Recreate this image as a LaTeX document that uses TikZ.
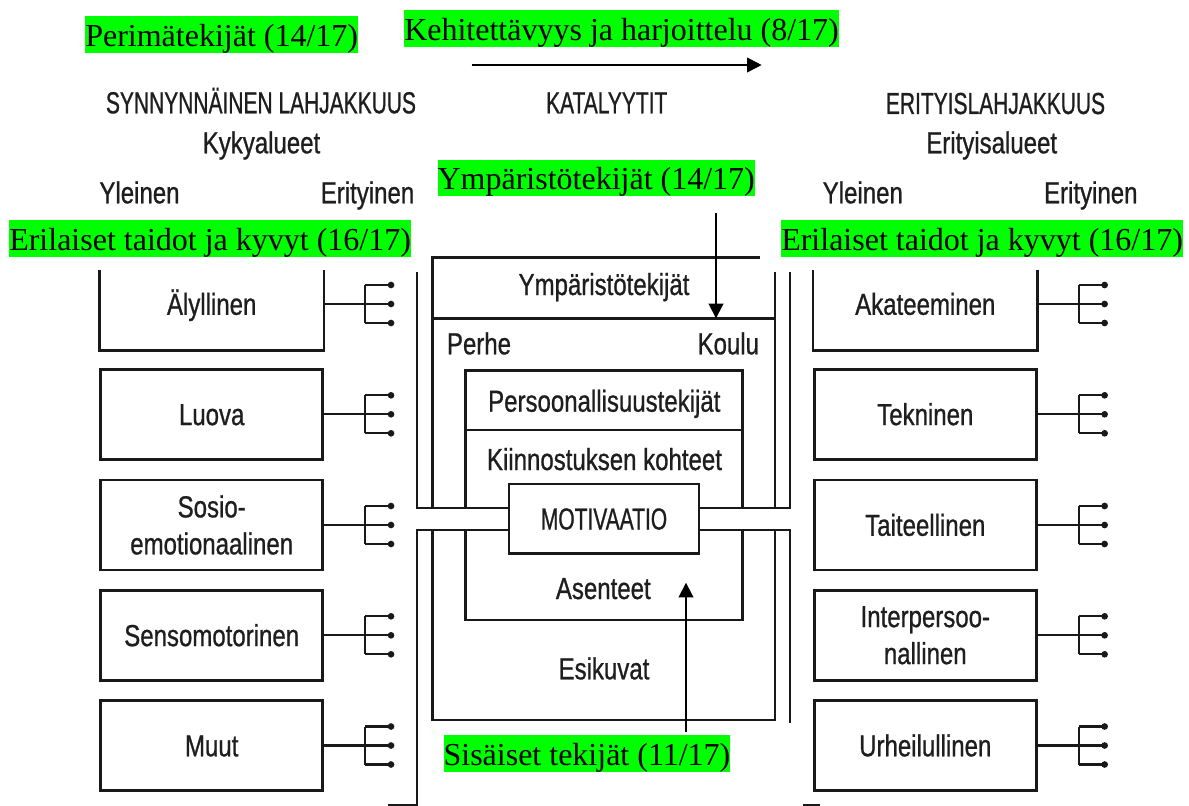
\documentclass[tikz,border=0pt]{standalone}
\usepackage{fontspec}
\setmainfont{Liberation Serif}
\newfontfamily\condf[FakeStretch=0.79,FakeBold=0.8]{Liberation Sans}
\newfontfamily\condcaps[FakeStretch=0.69,FakeBold=0.8]{Liberation Sans}
\usetikzlibrary{arrows.meta}
\definecolor{hl}{RGB}{0,255,0}
\definecolor{ink}{RGB}{30,30,30}
\begin{document}
\begin{tikzpicture}[x=0.75pt,y=-0.75pt,
  hlab/.style={fill=hl, inner sep=0pt, text height=22.5pt, text depth=5pt, anchor=north west, font=\fontsize{24}{28}\selectfont},
  gtxt/.style={text=ink, inner sep=0pt, anchor=base, font=\condf\fontsize{22.8}{27.75}\selectfont},
  gcaps/.style={text=ink, inner sep=0pt, anchor=base, font=\condcaps\fontsize{22.8}{27.75}\selectfont},
  abox/.style={line width=2pt, minimum width=166.5pt, minimum height=67.5pt, inner sep=0pt, text=ink, align=center, font=\condf\fontsize{22.8}{27.75}\selectfont},
  onel/.style={text height=16.2pt, text depth=0pt},
  wall/.style={line width=2pt, draw=black!90},
  fk/.style={line width=1.7pt, draw=black!90},
  arr/.style={line width=1.4pt, -{Triangle[length=11pt,width=11pt]}}
]
\useasboundingbox (0,0) rectangle (1189,806);

% ---------- headings ----------
\node[gcaps] (synn) at (261,113.3) {SYNNYNNÄINEN LAHJAKKUUS};
\node[gtxt] (kyky) at (261.5,153.3) {Kykyalueet};
\node[gtxt] (yl1) at (139.5,203.3) {Yleinen};
\node[gtxt] (er1) at (367.5,203.3) {Erityinen};
\node[gcaps] (kat) at (606.7,113.3) {KATALYYTIT};
\node[gcaps] (eri) at (995.5,114) {ERITYISLAHJAKKUUS};
\node[gtxt] (eria) at (991.7,153.3) {Erityisalueet};
\node[gtxt] (yl2) at (862.8,203.3) {Yleinen};
\node[gtxt] (er2) at (1090.8,203.3) {Erityinen};

% ---------- left boxes ----------
\node[abox,onel] (aly) at (211.7,304) {Älyllinen};
\draw[wall] ([yshift=-9.5pt]aly.north west) -- (aly.south west) -- (aly.south east) -- ([yshift=-9.5pt]aly.north east);
\node[abox,onel,wall] (luo) at (211.7,414.3) {Luova};
\node[abox,wall] (sos) at (211.7,525) {Sosio-\\emotionaalinen};
\node[abox,onel,wall] (sen) at (211.7,635.3) {Sensomotorinen};
\node[abox,onel,wall] (muu) at (211.7,745.5) {Muut};

% ---------- right boxes ----------
\node[abox,onel] (aka) at (925.3,304) {Akateeminen};
\draw[wall] ([yshift=-9.5pt]aka.north west) -- (aka.south west) -- (aka.south east) -- ([yshift=-9.5pt]aka.north east);
\node[abox,onel,wall] (tek) at (925.3,414.3) {Tekninen};
\node[abox,onel,wall] (tai) at (925.3,525) {Taiteellinen};
\node[abox,wall] (int) at (925.3,635.3) {Interpersoo-\\nallinen};
\node[abox,onel,wall] (urh) at (925.3,745.5) {Urheilullinen};

% ---------- forks ----------
\foreach \n in {aly,luo,sos,sen,muu,aka,tek,tai,int,urh}{
  \draw[fk] (\n.east) -- ++(41,0) coordinate (\n-j);
  \draw[fk] (\n-j) ++(0,-19) -- ++(0,38);
  \foreach \dy in {-19,0,19}{
    \draw[fk] (\n-j) ++(0,\dy) -- ++(26,0);
    \fill[black!90] (\n-j) ++(26,\dy) circle[radius=2.5pt];
  }
}

% ---------- central nested boxes ----------
\node[line width=2pt, draw=black!90, minimum width=142.5pt, minimum height=52pt, inner sep=0pt, text=ink, onel, font=\condcaps\fontsize{22.8}{27.75}\selectfont] (mot) at (604,518.7) {MOTIVAATIO};
\coordinate (cu) at (0,508);
\coordinate (cl) at (0,530);

% environment box
\draw[wall] (760,257.3) -- (432.7,257.3) -- (432.7,508);
\draw[wall] (432.7,530) -- (432.7,720) -- (775,720) -- (775,530);
\draw[wall] (775,508) -- (775,271.7);
\draw[wall] (432.7,318.3) -- (775,318.3);
% personality box
\draw[wall] (465.7,508) -- (465.7,370.7) -- (742.3,370.7) -- (742.3,508);
\draw[wall] (742.3,530) -- (742.3,620) -- (465.7,620) -- (465.7,530);
\draw[wall] (465.7,430) -- (742.3,430);
% outer channel lines
\draw[wall] (417,271.7) -- (417,508) -- (mot.west |- cu);
\draw[wall] (mot.west |- cl) -- (417,530) -- (417,805) -- (388,805);
\draw[wall] (mot.east |- cu) -- (790,508) -- (790,271.7);
\draw[wall] (mot.east |- cl) -- (790,530) -- (790,723);
\draw[wall] (803,805.5) -- (820,805.5);

\node[gtxt] (ympt) at (604,295) {Ympäristötekijät};
\node[gtxt] (perhe) at (479,354.3) {Perhe};
\node[gtxt] (koulu) at (728.3,354.3) {Koulu};
\node[gtxt] (pers) at (604.3,411.7) {Persoonallisuustekijät};
\node[gtxt] (kiin) at (604.5,470) {Kiinnostuksen kohteet};
\node[gtxt] (asen) at (603.3,599) {Asenteet};
\node[gtxt] (esik) at (604,679.3) {Esikuvat};

% ---------- highlighted annotations ----------
\node[hlab] (lper) at (85,16) {Perimätekijät (14/17)};
\node[hlab] (lkeh) at (404,10) {Kehitettävyys ja harjoittelu (8/17)};
\node[hlab] (lymp) at (437.3,159.3) {Ympäristötekijät (14/17)};
\node[hlab] (leriL) at (9,220) {Erilaiset taidot ja kyvyt (16/17)};
\node[hlab] (leriR) at (781,220) {Erilaiset taidot ja kyvyt (16/17)};
\node[hlab] (lsis) at (443.3,735) {Sisäiset tekijät (11/17)};

% ---------- arrows ----------
\coordinate (ta1) at (471.7,65);
\coordinate (ta2) at (761.7,65);
\draw[arr] (ta1) -- (ta2);
\coordinate (ya1) at (716,213.3);
\coordinate (ya2) at (716,318.3);
\draw[arr] (ya1) -- (ya2);
\coordinate (sa1) at (686,732.3);
\coordinate (sa2) at (686,582.7);
\draw[arr] (sa1) -- (sa2);
\end{tikzpicture}
\end{document}
